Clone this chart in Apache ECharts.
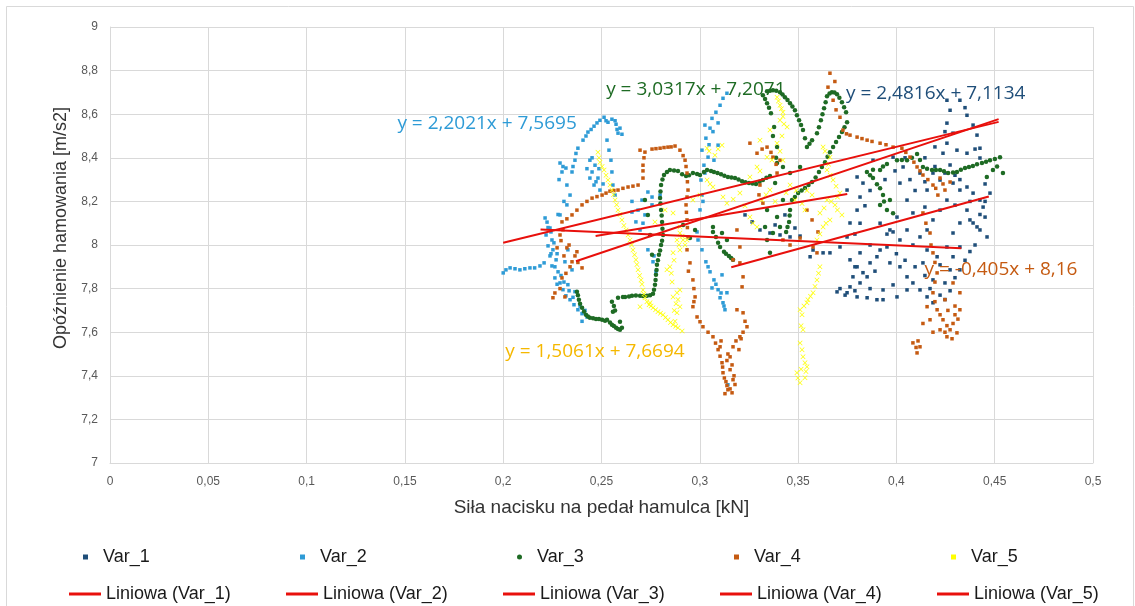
<!DOCTYPE html>
<html>
<head>
<meta charset="utf-8">
<title>Opóźnienie hamowania</title>
<script src="https://cdn.jsdelivr.net/npm/echarts/dist/echarts.min.js"></script>
<style>
  html, body { margin: 0; padding: 0; background: #fff; }
  #chart { width: 1135px; height: 606px; }
</style>
</head>
<body>
<div id="chart"></div>
<script>
// values: [force kN, deceleration m/s2]
var seriesNames = ['Var_1', 'Var_2', 'Var_3', 'Var_4', 'Var_5']

var var1 = [
  [0.3306, 8.069], [0.3357, 8.055], [0.3408, 8.046], [0.3459, 8.037], [0.351, 8.041], [0.323, 8.138], [0.3266, 8.106],
  [0.3383, 8.092], [0.3433, 8.138], [0.3484, 8.078], [0.3561, 7.946], [0.3576, 7.977], [0.3627, 7.964], [0.3662, 7.964],
  [0.3713, 7.991], [0.3749, 8.037], [0.3764, 8.101], [0.38, 8.16], [0.3815, 8.22], [0.383, 8.284], [0.3764, 7.932],
  [0.38, 7.9], [0.383, 7.873], [0.3866, 7.918], [0.3901, 7.946], [0.3917, 7.977], [0.3952, 7.991], [0.3815, 7.964],
  [0.3779, 7.854], [0.3851, 7.854], [0.3698, 7.785], [0.3749, 7.781], [0.38, 7.762], [0.3851, 7.758], [0.3901, 7.749],
  [0.3932, 7.749], [0.3815, 7.826], [0.3764, 7.808], [0.4003, 7.762], [0.4054, 7.794], [0.3967, 7.918], [0.4018, 7.9],
  [0.4054, 7.854], [0.4084, 7.826], [0.412, 7.794], [0.4156, 7.762], [0.4186, 7.735], [0.3749, 8.252], [0.38, 8.312],
  [0.3881, 8.389], [0.3983, 8.403], [0.4034, 8.358], [0.4018, 8.284], [0.4054, 8.206], [0.4084, 8.147], [0.4003, 8.128],
  [0.3967, 8.069], [0.4054, 8.069], [0.412, 8.037], [0.4156, 8.069], [0.4186, 8.115], [0.4222, 8.16], [0.4257, 8.206],
  [0.4156, 8.252], [0.412, 8.33], [0.4186, 8.33], [0.4222, 8.298], [0.4288, 8.284], [0.4323, 8.252], [0.4359, 8.266],
  [0.439, 8.238], [0.4425, 8.206], [0.4359, 8.16], [0.4323, 8.101], [0.439, 8.101], [0.4425, 8.069], [0.4461, 8.037],
  [0.4288, 8.055], [0.4257, 7.991], [0.4323, 7.991], [0.4288, 7.946], [0.4207, 7.946], [0.4156, 7.977], [0.4135, 7.918],
  [0.4257, 8.559], [0.4273, 8.618], [0.4257, 8.664], [0.4323, 8.664], [0.4359, 8.595], [0.439, 8.55], [0.441, 8.504],
  [0.4425, 8.444], [0.4425, 8.399], [0.4359, 8.421], [0.4308, 8.435], [0.4288, 8.513], [0.4257, 8.467], [0.4237, 8.421],
  [0.4374, 8.115], [0.441, 8.083], [0.4441, 8.174], [0.4476, 8.238], [0.3932, 7.794], [0.3983, 7.817], [0.4186, 7.84],
  [0.4084, 8.0], [0.4018, 8.023], [0.3983, 8.06], [0.4222, 7.909], [0.4273, 7.886], [0.4247, 7.826], [0.4323, 7.886],
  [0.4451, 8.128], [0.4298, 8.183], [0.4273, 8.367], [0.4145, 8.174],
  [0.3917, 8.1], [0.3952, 8.05], [0.4, 7.96], [0.4044, 7.93], [0.4095, 7.9], [0.4145, 7.86], [0.4171, 7.8],
  [0.4222, 7.77], [0.4247, 7.75], [0.4273, 7.79], [0.4298, 7.85], [0.4349, 7.93], [0.4374, 7.97], [0.44, 8.0],
  [0.4425, 8.14], [0.4451, 8.2], [0.4374, 8.2], [0.4323, 8.3], [0.4298, 8.32], [0.4247, 8.33], [0.4196, 8.36],
  [0.4145, 8.29], [0.4095, 8.25], [0.4069, 8.3], [0.4044, 8.4], [0.3993, 8.34], [0.3942, 8.3], [0.3866, 8.25],
  [0.384, 8.18], [0.3815, 8.1], [0.3789, 8.05], [0.3866, 8.0], [0.3713, 7.8], [0.3739, 7.77], [0.3789, 7.79],
  [0.3866, 7.8], [0.3789, 7.9], [0.3891, 7.88], [0.4145, 8.4], [0.4196, 8.45], [0.4247, 8.52], [0.4349, 8.63],
  [0.44, 8.44], [0.4451, 8.28]
]

var var2 = [
  [0.2, 7.872], [0.2014, 7.886], [0.2035, 7.895], [0.206, 7.891], [0.2085, 7.886], [0.211, 7.891], [0.2136, 7.895],
  [0.216, 7.895], [0.2187, 7.904], [0.2208, 7.918], [0.2223, 8.105], [0.2238, 8.078], [0.2218, 8.046], [0.2248, 8.023],
  [0.2228, 7.996], [0.2253, 7.978], [0.2238, 7.95], [0.2269, 7.932], [0.2248, 7.904], [0.2279, 7.877], [0.2263, 7.849],
  [0.2289, 7.826], [0.2304, 7.795], [0.2319, 7.767], [0.234, 7.749], [0.236, 7.726], [0.238, 7.703], [0.2401, 7.685],
  [0.2365, 7.786], [0.2329, 7.818], [0.235, 7.886], [0.2314, 7.923], [0.2329, 7.978], [0.2213, 8.124], [0.2289, 8.138],
  [0.2324, 8.184], [0.234, 8.229], [0.2324, 8.275], [0.2299, 8.335], [0.2289, 8.376], [0.2319, 8.353], [0.235, 8.335],
  [0.2365, 8.389], [0.238, 8.444], [0.2406, 8.481], [0.2431, 8.518], [0.2462, 8.545], [0.2492, 8.572], [0.2513, 8.586],
  [0.2533, 8.563], [0.2553, 8.577], [0.2574, 8.554], [0.2594, 8.536], [0.2604, 8.508], [0.2584, 8.513], [0.2528, 8.481],
  [0.2538, 8.435], [0.2548, 8.389], [0.2553, 8.335], [0.2558, 8.275], [0.2569, 8.229], [0.2441, 8.389], [0.2467, 8.366],
  [0.2452, 8.335], [0.2482, 8.307], [0.2462, 8.275], [0.2492, 8.252], [0.2441, 8.307], [0.2655, 8.151], [0.2675, 8.106],
  [0.2696, 8.069], [0.2721, 8.138], [0.2706, 8.206], [0.2736, 8.243], [0.2757, 8.184], [0.2798, 8.229], [0.3001, 8.161],
  [0.3011, 8.229], [0.3006, 8.298], [0.3021, 8.366], [0.3011, 8.435], [0.3031, 8.49], [0.3026, 8.55], [0.3052, 8.536],
  [0.3062, 8.581], [0.3082, 8.609], [0.3103, 8.641], [0.3118, 8.673], [0.3138, 8.696], [0.3093, 8.458], [0.3042, 8.403],
  [0.3072, 8.389], [0.2991, 8.023], [0.3011, 7.978], [0.3031, 7.923], [0.3052, 7.877], [0.3072, 7.84], [0.3062, 7.803],
  [0.3093, 7.795], [0.3103, 7.758], [0.3118, 7.735], [0.3128, 7.703], [0.3113, 7.863], [0.3138, 7.781], [0.3143, 7.359],
  [0.2736, 7.978], [0.2762, 7.923], [0.2777, 7.877],
  [0.2228, 8.08], [0.2243, 8.06], [0.2258, 8.01], [0.2243, 7.96], [0.2274, 7.96], [0.2263, 7.9], [0.2294, 7.86],
  [0.2274, 7.82], [0.2309, 7.83], [0.2335, 7.79], [0.2355, 7.76], [0.2391, 7.72], [0.2416, 7.7], [0.2426, 7.67],
  [0.2401, 7.65], [0.2279, 8.14], [0.2309, 8.2], [0.2284, 8.3], [0.2304, 8.36], [0.2355, 8.36], [0.237, 8.42],
  [0.2421, 8.5], [0.2447, 8.53], [0.2477, 8.56], [0.2523, 8.57], [0.2569, 8.57], [0.2579, 8.53], [0.2452, 8.4],
  [0.2487, 8.35], [0.2472, 8.29], [0.2508, 8.28], [0.2426, 8.35], [0.2655, 8.2], [0.2686, 8.16], [0.2711, 8.1],
  [0.2757, 8.22], [0.3016, 8.2], [0.3026, 8.33], [0.3047, 8.46], [0.3067, 8.52], [0.3093, 8.56], [0.3042, 7.9],
  [0.3082, 7.82], [0.3108, 7.78], [0.3123, 7.72], [0.2986, 8.06], [0.2767, 7.95]
]

var var3 = [
  [0.2375, 7.785], [0.2385, 7.749], [0.2401, 7.712], [0.2421, 7.68], [0.2441, 7.666], [0.2472, 7.661], [0.2503, 7.657],
  [0.2528, 7.657], [0.2553, 7.634], [0.2574, 7.62], [0.2594, 7.611], [0.2594, 7.648], [0.2558, 7.694], [0.2553, 7.74],
  [0.2584, 7.758], [0.262, 7.762], [0.2655, 7.767], [0.2696, 7.767], [0.2731, 7.767], [0.2762, 7.776], [0.2772, 7.818],
  [0.2777, 7.863], [0.2782, 7.909], [0.2792, 7.955], [0.2803, 8.0], [0.2813, 8.046], [0.2808, 8.106], [0.2803, 8.161],
  [0.2798, 8.216], [0.2803, 8.275], [0.2818, 8.321], [0.2848, 8.344], [0.2889, 8.339], [0.293, 8.316], [0.2965, 8.33],
  [0.3001, 8.321], [0.3037, 8.344], [0.3072, 8.335], [0.3108, 8.325], [0.3143, 8.312], [0.3179, 8.307], [0.3215, 8.293],
  [0.325, 8.284], [0.3286, 8.28], [0.3321, 8.298], [0.3357, 8.316], [0.3067, 8.083], [0.3082, 8.037], [0.3103, 7.991],
  [0.3123, 7.969], [0.3148, 7.95], [0.3169, 7.932], [0.3138, 8.023], [0.3113, 8.055], [0.3342, 8.161], [0.3332, 8.083],
  [0.3342, 8.023], [0.3357, 7.964], [0.3372, 8.055], [0.3393, 8.128], [0.3423, 8.206], [0.3383, 8.284], [0.3393, 8.376],
  [0.3393, 8.449], [0.3378, 8.541], [0.3362, 8.604], [0.3342, 8.65], [0.3321, 8.687], [0.3342, 8.705], [0.3372, 8.71],
  [0.3408, 8.701], [0.3433, 8.678], [0.3459, 8.65], [0.3484, 8.618], [0.3505, 8.572], [0.3525, 8.527], [0.3545, 8.449],
  [0.3571, 8.481], [0.3596, 8.513], [0.3616, 8.572], [0.3632, 8.627], [0.3647, 8.682], [0.3672, 8.701], [0.3698, 8.692],
  [0.3723, 8.655], [0.3744, 8.609], [0.3749, 8.563], [0.3723, 8.518], [0.3693, 8.472], [0.3662, 8.426], [0.3637, 8.38],
  [0.3606, 8.335], [0.3571, 8.289], [0.3535, 8.261], [0.35, 8.238], [0.3469, 8.206], [0.3459, 8.161], [0.3454, 8.106],
  [0.3439, 8.06], [0.3408, 8.083], [0.3423, 8.358], [0.3459, 8.33], [0.351, 8.358], [0.385, 8.335], [0.3881, 8.307],
  [0.3917, 8.344], [0.3952, 8.371], [0.3901, 8.279], [0.3932, 8.229], [0.3917, 8.183], [0.3952, 8.16], [0.3983, 8.146],
  [0.3967, 8.206], [0.4003, 8.389], [0.4054, 8.389], [0.4105, 8.417], [0.4135, 8.358], [0.4181, 8.344], [0.4222, 8.344],
  [0.4263, 8.33], [0.4308, 8.335], [0.4349, 8.353], [0.4389, 8.362], [0.4435, 8.376], [0.4476, 8.389], [0.4527, 8.403],
  [0.4542, 8.33], [0.4491, 8.344], [0.446, 8.312], [0.2721, 8.206], [0.2736, 8.138], [0.2747, 8.046], [0.2757, 7.955],
  [0.2915, 8.092], [0.295, 8.032], [0.2976, 8.069],
  [0.238, 7.77], [0.2391, 7.73], [0.2411, 7.695], [0.2431, 7.672], [0.2457, 7.664], [0.2487, 7.66], [0.2518, 7.652],
  [0.2543, 7.645], [0.2563, 7.628], [0.2584, 7.615], [0.2604, 7.62], [0.2569, 7.7], [0.2563, 7.72], [0.2609, 7.762],
  [0.264, 7.764], [0.2675, 7.768], [0.2711, 7.766], [0.2747, 7.77], [0.2767, 7.795], [0.2775, 7.84], [0.278, 7.885],
  [0.2787, 7.93], [0.2798, 7.975], [0.2808, 8.02], [0.281, 8.075], [0.2806, 8.135], [0.28, 8.19], [0.28, 8.245],
  [0.281, 8.3], [0.2833, 8.335], [0.2869, 8.342], [0.291, 8.325], [0.2945, 8.32], [0.2986, 8.326], [0.3021, 8.335],
  [0.3057, 8.34], [0.309, 8.33], [0.3125, 8.318], [0.3161, 8.31], [0.3197, 8.3], [0.3232, 8.288], [0.3268, 8.282],
  [0.3304, 8.29], [0.3339, 8.308], [0.3372, 8.5], [0.3388, 8.4], [0.3352, 8.63], [0.3332, 8.67], [0.3357, 8.708],
  [0.3389, 8.707], [0.3421, 8.69], [0.3446, 8.665], [0.3471, 8.635], [0.3494, 8.595], [0.3515, 8.55], [0.3535, 8.49],
  [0.3558, 8.465], [0.3606, 8.54], [0.3624, 8.6], [0.364, 8.655], [0.366, 8.695], [0.3685, 8.7], [0.371, 8.675],
  [0.3734, 8.632], [0.3736, 8.54], [0.3708, 8.495], [0.3678, 8.45], [0.365, 8.405], [0.3621, 8.358], [0.3589, 8.31],
  [0.3553, 8.275], [0.3518, 8.25], [0.3484, 8.22], [0.3457, 8.135], [0.3446, 8.083], [0.3866, 8.32], [0.3881, 8.345],
  [0.3932, 8.36], [0.3917, 8.26], [0.3937, 8.2], [0.4028, 8.39], [0.4079, 8.4], [0.412, 8.39], [0.4156, 8.35],
  [0.4201, 8.344], [0.4242, 8.338], [0.4288, 8.332], [0.4328, 8.345], [0.4369, 8.358], [0.441, 8.37], [0.4456, 8.382],
  [0.4501, 8.395], [0.4512, 8.36], [0.3067, 8.06], [0.3093, 8.01], [0.3133, 7.96], [0.3159, 7.94]
]

var var4 = [
  [0.2253, 7.758], [0.2314, 7.762], [0.2299, 7.849], [0.235, 7.923], [0.2324, 7.987], [0.2375, 7.969], [0.2401, 7.895],
  [0.2274, 7.987], [0.2289, 8.046], [0.2299, 8.106], [0.235, 8.138], [0.2401, 8.184], [0.2452, 8.215], [0.2503, 8.229],
  [0.2543, 8.247], [0.2584, 8.252], [0.2635, 8.266], [0.2686, 8.275], [0.2711, 8.307], [0.2711, 8.366], [0.2721, 8.426],
  [0.2757, 8.44], [0.2798, 8.444], [0.2838, 8.449], [0.2874, 8.454], [0.2899, 8.435], [0.2925, 8.389], [0.2935, 8.33],
  [0.294, 8.252], [0.293, 8.184], [0.2935, 8.115], [0.294, 8.037], [0.2935, 7.978], [0.295, 7.918], [0.2965, 7.84],
  [0.2976, 7.762], [0.2965, 7.717], [0.2986, 7.67], [0.3016, 7.625], [0.3067, 7.579], [0.3093, 7.52], [0.3113, 7.46],
  [0.3118, 7.414], [0.3133, 7.373], [0.3143, 7.336], [0.3164, 7.322], [0.3128, 7.318], [0.3154, 7.487], [0.3169, 7.533],
  [0.3204, 7.579], [0.324, 7.625], [0.322, 7.689], [0.3189, 7.703], [0.3169, 7.382], [0.3154, 7.428], [0.3103, 7.533],
  [0.3204, 7.918], [0.322, 7.854], [0.3215, 7.808], [0.3189, 8.069], [0.3204, 7.991], [0.3169, 7.932], [0.2696, 8.435],
  [0.3255, 8.467], [0.3291, 8.421], [0.3342, 8.449], [0.3372, 8.403], [0.3408, 8.389], [0.3393, 8.33], [0.3321, 8.192],
  [0.3306, 8.275], [0.3423, 8.023], [0.3459, 8.0], [0.351, 8.032], [0.3545, 8.16], [0.3571, 8.115], [0.3601, 8.06],
  [0.3576, 7.991], [0.3596, 7.964], [0.3662, 8.788], [0.3652, 8.724], [0.3678, 8.664], [0.3713, 8.586], [0.3728, 8.527],
  [0.3764, 8.504], [0.38, 8.495], [0.3851, 8.481], [0.3917, 8.467], [0.3983, 8.449], [0.4028, 8.444], [0.4069, 8.403],
  [0.4105, 8.358], [0.4135, 8.321], [0.4186, 8.275], [0.4222, 8.307], [0.4247, 8.252], [0.4273, 8.289], [0.4211, 8.229],
  [0.4135, 8.147], [0.4171, 8.055], [0.4186, 7.964], [0.4207, 7.872], [0.4186, 7.781], [0.4207, 7.703], [0.4237, 7.657],
  [0.4273, 7.611], [0.4308, 7.597], [0.4257, 7.579], [0.4171, 7.657], [0.4156, 7.717], [0.4084, 7.551], [0.4105, 7.505],
  [0.412, 7.533], [0.4323, 7.703], [0.4323, 7.781], [0.4288, 7.826], [0.4247, 7.749], [0.4222, 7.611], [0.4298, 7.68],
  [0.2263, 7.78], [0.2289, 7.8], [0.2319, 7.87], [0.234, 7.9], [0.2309, 7.95], [0.2335, 8.0], [0.2365, 7.95],
  [0.238, 7.92], [0.2294, 8.02], [0.2304, 8.07], [0.2324, 8.12], [0.2375, 8.16], [0.2426, 8.2], [0.2477, 8.222],
  [0.2523, 8.238], [0.2563, 8.25], [0.2609, 8.26], [0.266, 8.27], [0.2711, 8.34], [0.2716, 8.4], [0.2777, 8.442],
  [0.2818, 8.447], [0.2854, 8.45], [0.2915, 8.41], [0.293, 8.36], [0.2937, 8.29], [0.2935, 8.22], [0.2932, 8.15],
  [0.2937, 8.08], [0.2942, 7.88], [0.297, 7.8], [0.297, 7.74], [0.3001, 7.648], [0.3042, 7.6], [0.308, 7.55],
  [0.3103, 7.49], [0.3116, 7.44], [0.3125, 7.39], [0.3138, 7.355], [0.3154, 7.34], [0.3179, 7.36], [0.3174, 7.4],
  [0.3164, 7.45], [0.3143, 7.5], [0.3184, 7.56], [0.322, 7.6], [0.323, 7.65], [0.321, 7.57], [0.3138, 7.47],
  [0.3108, 7.56], [0.3199, 7.52], [0.3687, 8.75], [0.3693, 8.62], [0.3746, 8.51], [0.3825, 8.488], [0.3876, 8.475],
  [0.3947, 8.46], [0.4048, 8.425], [0.4089, 8.38], [0.412, 8.34], [0.416, 8.3], [0.42, 8.26], [0.4237, 8.28],
  [0.415, 8.1], [0.4176, 8.0], [0.4196, 7.92], [0.4196, 7.83], [0.4196, 7.74], [0.4222, 7.68], [0.4257, 7.63],
  [0.4288, 7.64], [0.4247, 7.6], [0.4283, 7.57], [0.4186, 7.6], [0.4135, 7.64], [0.4298, 7.72], [0.4313, 7.66],
  [0.4262, 7.7], [0.41, 7.53], [0.411, 7.56], [0.3317, 8.44], [0.3362, 8.425], [0.3388, 8.37], [0.3301, 8.23]
]

var var5 = [
  [0.2482, 8.426], [0.2492, 8.38], [0.2513, 8.344], [0.2533, 8.298], [0.2553, 8.252], [0.2569, 8.206], [0.2584, 8.161],
  [0.2604, 8.115], [0.2625, 8.069], [0.2645, 8.023], [0.266, 7.977], [0.2675, 7.932], [0.2686, 7.886], [0.2701, 7.84],
  [0.2711, 7.794], [0.2721, 7.758], [0.2742, 7.726], [0.2762, 7.712], [0.2787, 7.694], [0.2813, 7.68], [0.2838, 7.657],
  [0.2864, 7.634], [0.2889, 7.62], [0.291, 7.606], [0.2884, 7.689], [0.2864, 7.762], [0.2899, 7.794], [0.2848, 7.9],
  [0.2864, 7.964], [0.2884, 8.023], [0.2899, 8.055], [0.2935, 8.023], [0.2833, 7.886], [0.2899, 7.977], [0.2915, 8.023],
  [0.2884, 7.781], [0.2899, 7.717], [0.2696, 7.717], [0.2747, 7.735], [0.351, 7.703], [0.3545, 7.735], [0.3525, 7.611],
  [0.351, 7.551], [0.3525, 7.487], [0.3545, 7.441], [0.3494, 7.414], [0.351, 7.368], [0.3535, 7.391], [0.3611, 7.9],
  [0.3596, 7.84], [0.3576, 7.781], [0.355, 7.749], [0.2864, 8.147], [0.2899, 8.083], [0.3037, 8.444], [0.3077, 8.412],
  [0.3113, 8.458], [0.3037, 8.298], [0.3067, 8.266], [0.3138, 8.192], [0.3204, 8.238], [0.3255, 8.128], [0.3291, 8.083],
  [0.3393, 8.678], [0.3408, 8.641], [0.3423, 8.609], [0.3408, 8.572], [0.3444, 8.541], [0.3393, 8.467], [0.3423, 8.389],
  [0.3342, 8.403], [0.3291, 8.358], [0.3255, 8.312], [0.3627, 8.449], [0.3662, 8.403], [0.3647, 8.344], [0.3678, 8.298],
  [0.3713, 8.238], [0.3647, 8.206], [0.3611, 8.147], [0.3662, 8.115], [0.3627, 8.083], [0.3596, 8.023], [0.3688, 8.183],
  [0.3723, 8.138], [0.3571, 8.229], [0.3535, 8.16], [0.3484, 8.206], [0.3459, 8.275], [0.3316, 8.206], [0.3357, 8.252],
  [0.3306, 8.481], [0.3357, 8.527], [0.3001, 8.229], [0.2965, 8.206], [0.2823, 8.16], [0.2772, 8.106],
  [0.2487, 8.4], [0.2503, 8.36], [0.2523, 8.32], [0.2543, 8.275], [0.2561, 8.23], [0.2577, 8.185], [0.2594, 8.14],
  [0.2614, 8.09], [0.2635, 8.046], [0.2653, 8.0], [0.2668, 7.955], [0.268, 7.91], [0.2694, 7.86], [0.2706, 7.82],
  [0.2716, 7.775], [0.2731, 7.74], [0.2752, 7.72], [0.2775, 7.703], [0.28, 7.687], [0.2825, 7.668], [0.2851, 7.645],
  [0.2877, 7.627], [0.2874, 7.65], [0.2879, 7.73], [0.2889, 7.75], [0.2859, 7.83], [0.2855, 7.87], [0.2869, 7.93],
  [0.2894, 8.0], [0.291, 8.04], [0.2925, 8.0], [0.287, 7.7], [0.352, 7.68], [0.3515, 7.63], [0.352, 7.52],
  [0.3535, 7.46], [0.3515, 7.43], [0.3499, 7.39], [0.354, 7.42], [0.3604, 7.87], [0.3586, 7.81], [0.3563, 7.765],
  [0.353, 7.72], [0.3047, 8.43], [0.3093, 8.44], [0.3052, 8.28], [0.3118, 8.22], [0.317, 8.21], [0.323, 8.18],
  [0.327, 8.1], [0.34, 8.66], [0.3415, 8.625], [0.3423, 8.59], [0.3428, 8.555], [0.3418, 8.5], [0.3408, 8.43],
  [0.3367, 8.39], [0.3306, 8.34], [0.3637, 8.43], [0.3655, 8.37], [0.3663, 8.32], [0.3693, 8.27], [0.37, 8.22],
  [0.3668, 8.2], [0.3632, 8.17], [0.3642, 8.1], [0.3611, 8.05], [0.37, 8.16], [0.352, 8.19], [0.3545, 8.25],
  [0.349, 8.25], [0.3439, 8.24], [0.3383, 8.2], [0.3337, 8.23]
]

// linear trendlines as printed on the chart: y = a*x + b, drawn over the x span
var trendSlope = [2.4816, 2.2021, 3.0317, -0.405, 1.5061]
var trendIntercept = [7.1134, 7.5695, 7.2071, 8.16, 7.6694]
var trendFrom = [0.316, 0.2, 0.237, 0.219, 0.247]
var trendTo = [0.447, 0.452, 0.452, 0.433, 0.375]
var trendLabels = ['y = 2,4816x + 7,1134', 'y = 2,2021x + 7,5695', 'y = 3,0317x + 7,2071', 'y = -0,405x + 8,16', 'y = 1,5061x + 7,6694']
var labelAt = [[0.42, 8.695], [0.1918, 8.555], [0.298, 8.715], [0.4532, 7.885], [0.2467, 7.51]]

var colors = ['#1f4e79', '#2e9bd6', '#1e6b24', '#c55a11', '#ffff00']
var labelColors = ['#1f4e79', '#2e9bd6', '#1e6b24', '#c55a11', '#f5b800']
var symbols = ['rect', 'rect', 'circle', 'rect', 'path://M0,1L1,0L5,4L9,0L10,1L6,5L10,9L9,10L5,6L1,10L0,9L4,5Z']
var symbolSizes = [3.5, 3.5, 4.5, 3.5, 5]
var trendColor = '#e8100c'

var comma = function (v) {
  return String(parseFloat(v.toFixed(3))).replace('.', ',')
}

var chart = echarts.init(document.getElementById('chart'))

var points = [var1, var2, var3, var4, var5]
var series = []
seriesNames.forEach(function (name, i) {
  series.push({
    name: name,
    type: 'scatter',
    symbol: symbols[i],
    symbolSize: symbolSizes[i],
    itemStyle: { color: colors[i], opacity: 1 },
    data: points[i]
  })
})
seriesNames.forEach(function (name, i) {
  series.push({
    name: 'Liniowa (' + name + ')',
    type: 'line',
    symbol: 'none',
    silent: true,
    z: 5,
    color: trendColor,
    itemStyle: { color: trendColor },
    lineStyle: { color: trendColor, width: 2 },
    data: [
      [trendFrom[i], trendSlope[i] * trendFrom[i] + trendIntercept[i]],
      [trendTo[i], trendSlope[i] * trendTo[i] + trendIntercept[i]]
    ],
    markPoint: {
      symbol: 'rect',
      symbolSize: 1,
      itemStyle: { color: 'transparent' },
      label: {
        show: true,
        position: 'inside',
        formatter: trendLabels[i],
        color: labelColors[i],
        fontSize: 19,
        fontFamily: 'Open Sans'
      },
      data: [{ coord: labelAt[i] }]
    }
  })
})

var legends = []
seriesNames.forEach(function (name, i) {
  legends.push({
    left: 78 + i * 217,
    top: 543,
    itemWidth: 5,
    itemHeight: 5,
    selectedMode: false,
    data: [{ name: name, icon: i === 2 ? 'circle' : 'rect', itemStyle: { color: colors[i] } }],
    textStyle: { fontSize: 18, color: '#1a1a1a', fontFamily: 'Liberation Sans', padding: [0, 0, 0, 10] }
  })
  legends.push({
    left: 64 + i * 217,
    top: 580,
    itemWidth: 32,
    itemHeight: 3,
    selectedMode: false,
    data: [{ name: 'Liniowa (' + name + ')', icon: 'rect', itemStyle: { color: trendColor } }],
    textStyle: { fontSize: 18, color: '#1a1a1a', fontFamily: 'Liberation Sans' }
  })
})

chart.setOption({
  animation: false,
  backgroundColor: '#fff',
  graphic: [{
    type: 'rect',
    shape: { x: 6.5, y: 6.5, width: 1127, height: 620 },
    style: { fill: 'none', stroke: '#d9d9d9', lineWidth: 1 },
    silent: true
  }],
  legend: legends,
  grid: {
    left: 110,
    right: 42,
    top: 27,
    bottom: 143
  },
  xAxis: {
    type: 'value',
    min: 0,
    max: 0.5,
    interval: 0.05,
    name: 'Siła nacisku na pedał hamulca [kN]',
    nameLocation: 'middle',
    nameGap: 35,
    nameTextStyle: { fontSize: 19, color: '#333', fontFamily: 'Liberation Sans' },
    axisLine: { lineStyle: { color: '#d9d9d9' } },
    axisTick: { show: false },
    axisLabel: { margin: 13, fontSize: 12, color: '#595959', fontFamily: 'Liberation Sans', formatter: comma },
    splitLine: { lineStyle: { color: '#d9d9d9' } }
  },
  yAxis: {
    type: 'value',
    min: 7,
    max: 9,
    interval: 0.2,
    name: 'Opóźnienie hamowania [m/s2]',
    nameLocation: 'middle',
    nameGap: 37,
    nameTextStyle: { fontSize: 18, color: '#333', fontFamily: 'Liberation Sans', padding: [0, 0, 0, 34] },
    axisLine: { show: true, lineStyle: { color: '#d9d9d9' } },
    axisTick: { show: false },
    axisLabel: { margin: 12, fontSize: 12, color: '#595959', fontFamily: 'Liberation Sans', formatter: comma },
    splitLine: { lineStyle: { color: '#d9d9d9' } }
  },
  series: series
})
</script>
</body>
</html>
